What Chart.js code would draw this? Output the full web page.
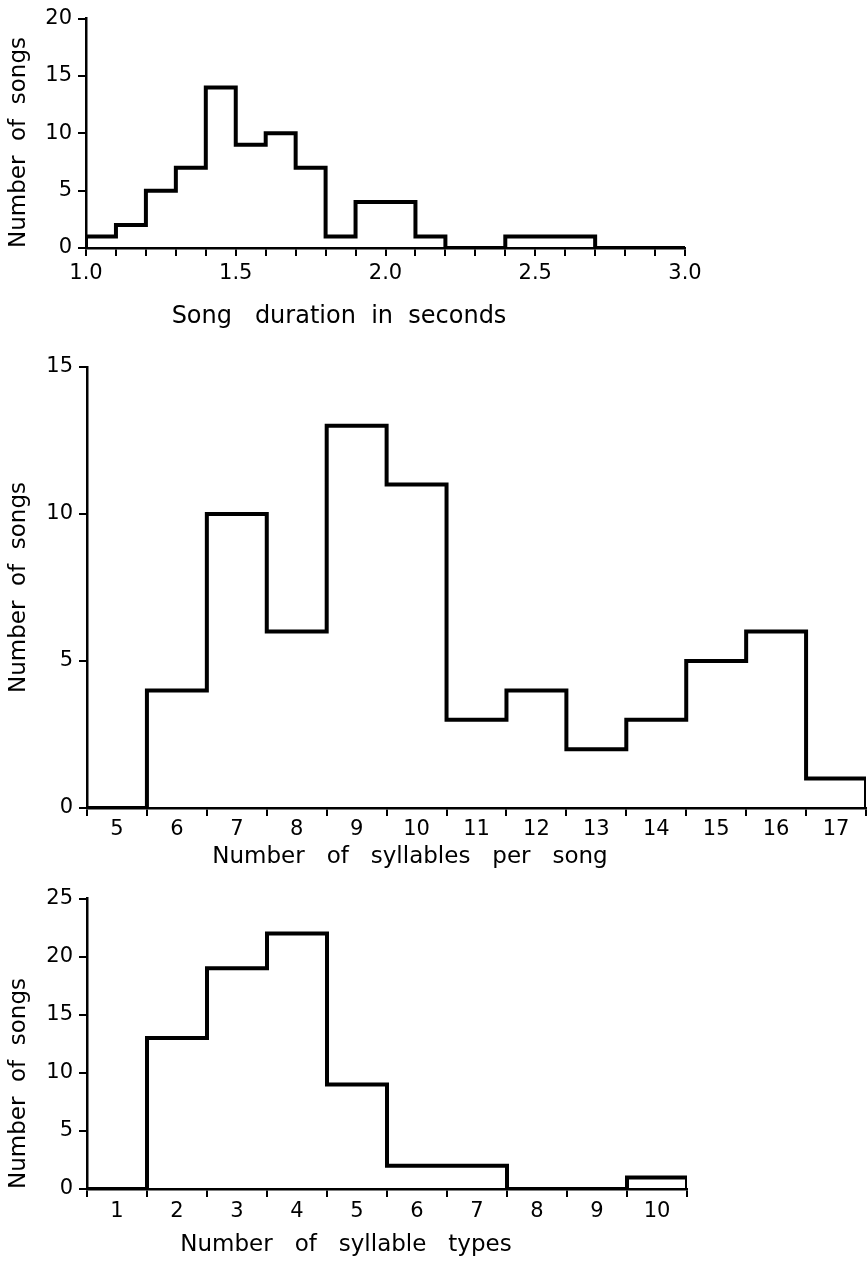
<!DOCTYPE html>
<html>
<head>
<meta charset="utf-8">
<script src="https://cdn.jsdelivr.net/npm/chart.js@4.4.1/dist/chart.umd.min.js"></script>
<style>
  html, body { margin: 0; padding: 0; background: #fff; }
  #wrap { position: relative; width: 868px; height: 1261px; overflow: hidden; }
  .panel { position: absolute; left: 0; }
</style>
</head>
<body>
<div id="wrap">
  <canvas id="cDuracion" class="panel" width="868" height="340" style="top:0px"></canvas>
  <canvas id="cSilabas" class="panel" width="868" height="540" style="top:340px"></canvas>
  <canvas id="cTipos" class="panel" width="868" height="381" style="top:880px"></canvas>
</div>
<script>
// Song duration (bin starts, 0.1 s wide)
const durationBins = [1.0, 1.1, 1.2, 1.3, 1.4, 1.5, 1.6, 1.7, 1.8, 1.9, 2.0, 2.1, 2.2, 2.3, 2.4, 2.5, 2.6, 2.7, 2.8, 2.9];
const durationCounts = [1, 2, 5, 7, 14, 9, 10, 7, 1, 4, 4, 1, 0, 0, 1, 1, 1, 0, 0, 0];
const durationTickLabels = ['1.0', '1.5', '2.0', '2.5', '3.0'];

// Syllables per song
const syllableCats = [5, 6, 7, 8, 9, 10, 11, 12, 13, 14, 15, 16, 17];
const syllableCounts = [0, 4, 10, 6, 13, 11, 3, 4, 2, 3, 5, 6, 1];

// Syllable types
const typeCats = [1, 2, 3, 4, 5, 6, 7, 8, 9, 10];
const typeCounts = [0, 13, 19, 22, 9, 2, 2, 0, 0, 1];

const FONT = "'DejaVu Sans', sans-serif";
const Y_TITLE = 'Number  of  songs';

// outline of a histogram: points on the bin edges, drawn as a stepped line
const histPoints = (lefts, counts, width) => {
  const pts = [{ x: lefts[0], y: 0 }];
  lefts.forEach((l, i) => pts.push({ x: l, y: counts[i] }));
  const end = lefts[lefts.length - 1] + width;
  pts.push({ x: end, y: counts[counts.length - 1] });
  pts.push({ x: end, y: 0 });
  return pts;
};

const xTitlePlugin = {
  id: 'xTitle',
  afterDraw(chart, args, opts) {
    const ctx = chart.ctx;
    ctx.save();
    ctx.font = opts.font;
    ctx.fillStyle = '#000';
    ctx.textAlign = 'center';
    ctx.textBaseline = 'middle';
    ctx.fillText(opts.text, opts.x, opts.y);
    ctx.restore();
  }
};

const makeChart = (id, cfg) => new Chart(document.getElementById(id), {
  type: 'line',
  data: {
    datasets: [{
      data: cfg.points,
      stepped: true,
      borderColor: '#000',
      borderWidth: 4,
      borderJoinStyle: 'miter',
      pointRadius: 0,
      fill: false,
      tension: 0
    }]
  },
  options: {
    responsive: false,
    devicePixelRatio: 1,
    animation: false,
    layout: { padding: cfg.padding },
    plugins: {
      legend: { display: false },
      tooltip: { enabled: false },
      xTitle: { text: cfg.xTitle, x: cfg.xTitleX, y: cfg.xTitleY, font: cfg.xTitleSize + 'px ' + FONT }
    },
    scales: {
      x: {
        type: 'linear',
        min: cfg.xMin,
        max: cfg.xMax,
        afterBuildTicks: cfg.xTicks ? (s) => { s.ticks = cfg.xTicks.map(v => ({ value: v })); } : undefined,
        afterFit: (s) => { s.height = cfg.xHeight; },
        border: { display: true, color: '#000', width: 2.5 },
        grid: { drawOnChartArea: false, drawTicks: true, tickLength: 8, color: '#000', lineWidth: 2, offset: cfg.xGridOffset },
        ticks: {
          stepSize: cfg.xStep,
          autoSkip: false,
          maxRotation: 0,
          padding: cfg.xTickPad,
          color: '#000',
          font: { family: FONT, size: 21 },
          callback: cfg.xLabel
        }
      },
      y: {
        min: 0,
        max: cfg.yMax,
        afterFit: (s) => { s.width = cfg.yWidth; },
        border: { display: true, color: '#000', width: 2.5 },
        grid: { drawOnChartArea: false, drawTicks: true, tickLength: 8, color: '#000', lineWidth: 2 },
        ticks: { stepSize: 5, padding: 6, color: '#000', font: { family: FONT, size: 21 } },
        title: {
          display: true,
          text: Y_TITLE,
          align: cfg.yTitleAlign,
          color: '#000',
          font: { family: FONT, size: 23 },
          padding: { top: 5, bottom: 4 }
        }
      }
    }
  },
  plugins: [xTitlePlugin]
});

const durWidth = +(durationBins[1] - durationBins[0]).toFixed(2);
makeChart('cDuracion', {
  points: histPoints(durationBins, durationCounts, durWidth),
  padding: { top: 14, left: 0, right: 183, bottom: 0 },
  xMin: 1.0, xMax: 3.0, xStep: 0.1, xGridOffset: false, xHeight: 92, xTickPad: 5,
  xLabel: (v) => { const t = v.toFixed(1); return durationTickLabels.includes(t) ? t : ''; },
  yMax: 20, yWidth: 86, yTitleAlign: 'start',
  xTitle: 'Song   duration  in  seconds', xTitleSize: 24, xTitleX: 339, xTitleY: 317
});

makeChart('cSilabas', {
  points: histPoints(syllableCats.map(c => c - 0.5), syllableCounts, 1),
  padding: { top: 27, left: 0, right: 2, bottom: 0 },
  xMin: syllableCats[0] - 0.5, xMax: syllableCats[syllableCats.length - 1] + 0.5, xTicks: syllableCats, xGridOffset: true, xHeight: 72, xTickPad: 1,
  xLabel: (v) => String(v),
  yMax: 15, yWidth: 87, yTitleAlign: 'center',
  xTitle: 'Number   of   syllables   per   song', xTitleSize: 23, xTitleX: 410, xTitleY: 517
});

makeChart('cTipos', {
  points: histPoints(typeCats.map(c => c - 0.5), typeCounts, 1),
  padding: { top: 15, left: 0, right: 181, bottom: 0 },
  xMin: typeCats[0] - 0.5, xMax: typeCats[typeCats.length - 1] + 0.5, xTicks: typeCats, xGridOffset: true, xHeight: 72, xTickPad: 2,
  xLabel: (v) => String(v),
  yMax: 25, yWidth: 87, yTitleAlign: 'start',
  xTitle: 'Number   of   syllable   types', xTitleSize: 23, xTitleX: 346, xTitleY: 365
});
</script>
</body>
</html>
